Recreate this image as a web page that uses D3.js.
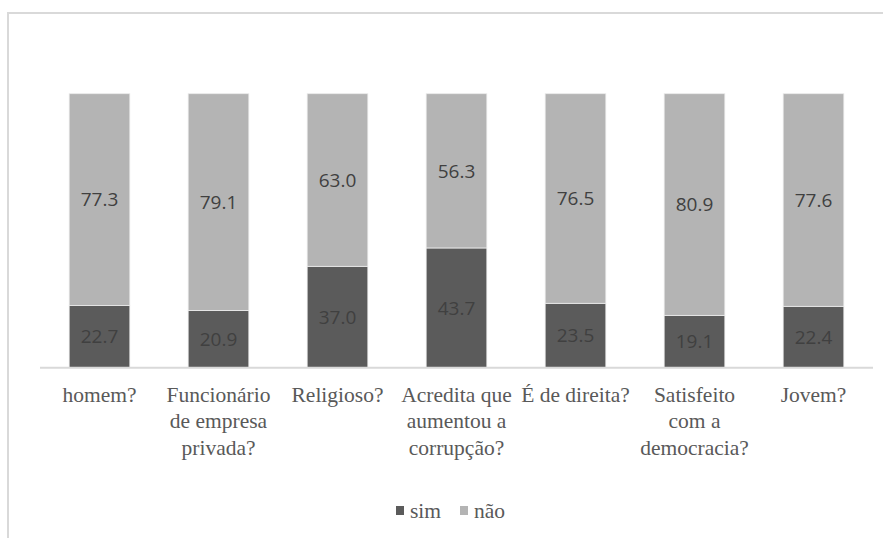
<!DOCTYPE html>
<html>
<head>
<meta charset="utf-8">
<script src="https://cdn.jsdelivr.net/npm/d3@7"></script>
</head>
<body style="margin:0">
<svg id="chart" width="883" height="538"></svg>
<script>
// Categories (line breaks mark how each axis label wraps)
const categories = [
  "homem?",
  "Funcionário\nde empresa\nprivada?",
  "Religioso?",
  "Acredita que\naumentou a\ncorrupção?",
  "É de direita?",
  "Satisfeito\ncom a\ndemocracia?",
  "Jovem?"
];
const simValues = [22.7, 20.9, 37.0, 43.7, 23.5, 19.1, 22.4];
const naoValues = [77.3, 79.1, 63.0, 56.3, 76.5, 80.9, 77.6];
const seriesNames = ["sim", "não"];
const seriesColors = ["#5b5b5b", "#b4b4b4"];

// Serif text is set at 24px and scaled down to the label size
const SERIF = '"Liberation Serif"';
const SERIF_SCALE = 21.5 / 24;

const svg = d3.select("#chart");

// Chart area frame (only top and left edges fall inside the page)
svg.append("path")
  .attr("d", "M8,538 L8,13 L883,13")
  .attr("fill", "none")
  .attr("stroke", "#d9d9d9")
  .attr("stroke-width", 2);

const plot = { left: 40, right: 873, top: 93.7, bottom: 367.7 };

const x = d3.scaleBand()
  .domain(categories)
  .range([plot.left, plot.right])
  .paddingInner(0.49)
  .paddingOuter(0.245);

const y = d3.scaleLinear()
  .domain([0, 100])
  .range([plot.bottom, plot.top]);

const rows = categories.map((c, i) => ({ cat: c, sim: simValues[i], "não": naoValues[i] }));
const stacked = d3.stack().keys(seriesNames)(rows);

const layers = svg.append("g").selectAll("g")
  .data(stacked)
  .join("g")
  .attr("fill", (d, i) => seriesColors[i]);

layers.selectAll("rect")
  .data(d => d)
  .join("rect")
  .attr("x", d => x(d.data.cat))
  .attr("width", x.bandwidth())
  .attr("y", d => y(d[1]))
  .attr("height", d => y(d[0]) - y(d[1]))
  .attr("stroke", "#ececec")
  .attr("stroke-width", 0.8);

// Value labels centred in each segment
layers.selectAll("text")
  .data(d => d.map(v => ({ v, key: d.key })))
  .join("text")
  .attr("x", d => x(d.v.data.cat) + x.bandwidth() / 2)
  .attr("y", d => (y(d.v[0]) + y(d.v[1])) / 2)
  .attr("dy", "0.36em")
  .attr("text-anchor", "middle")
  .attr("fill", "#404040")
  .style("font-family", '"Open Sans", sans-serif')
  .style("font-size", "19px")
  .text(d => d.v.data[d.key].toFixed(1));

// Category axis line
svg.append("line")
  .attr("x1", plot.left).attr("x2", plot.right)
  .attr("y1", plot.bottom).attr("y2", plot.bottom)
  .attr("stroke", "#d9d9d9")
  .attr("stroke-width", 2);

// Category labels, one line per text element
categories.forEach(cat => {
  const g = svg.append("g")
    .attr("transform", `translate(${x(cat) + x.bandwidth() / 2},${plot.bottom + 34}) scale(${SERIF_SCALE})`);
  cat.split("\n").forEach((line, i) => {
    g.append("text")
      .attr("x", 0)
      .attr("y", i * 26.5 / SERIF_SCALE)
      .attr("text-anchor", "middle")
      .attr("fill", "#595959")
      .style("font-family", SERIF)
      .style("font-size", "24px")
      .text(line);
  });
});

// Legend
const legendItems = [
  { name: seriesNames[0], color: seriesColors[0], dx: 396 },
  { name: seriesNames[1], color: seriesColors[1], dx: 460 }
];
legendItems.forEach(item => {
  svg.append("rect")
    .attr("x", item.dx).attr("y", 506)
    .attr("width", 8).attr("height", 9)
    .attr("fill", item.color);
  svg.append("g")
    .attr("transform", `translate(${item.dx + 14},518) scale(${SERIF_SCALE})`)
    .append("text")
    .attr("fill", "#595959")
    .style("font-family", SERIF)
    .style("font-size", "24px")
    .text(item.name);
});
</script>
</body>
</html>
